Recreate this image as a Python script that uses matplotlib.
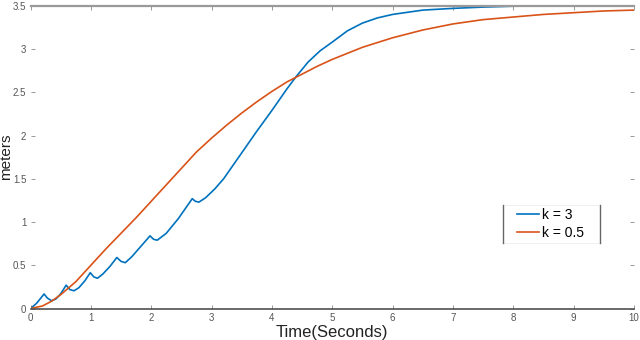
import matplotlib
matplotlib.use("Agg")
import matplotlib.pyplot as plt

# Blue series (k = 3)
t_k3 = [0, 0.1, 0.225, 0.28, 0.35, 0.42, 0.5, 0.59, 0.65, 0.72, 0.8, 0.9, 0.99,
        1.05, 1.11, 1.2, 1.32, 1.43, 1.5, 1.57, 1.68, 1.83, 1.98, 2.04, 2.1,
        2.25, 2.45, 2.68, 2.73, 2.79, 2.9, 3.05, 3.2, 3.5, 3.75, 4.0, 4.25,
        4.4, 4.6, 4.8, 5.0, 5.25, 5.5, 5.75, 6.0, 6.5, 7.0, 7.5, 8.0, 9.0, 10.0]
y_k3 = [0, 0.06, 0.168, 0.12, 0.09, 0.11, 0.17, 0.27, 0.22, 0.205, 0.24, 0.32, 0.414,
        0.365, 0.35, 0.40, 0.49, 0.59, 0.545, 0.53, 0.60, 0.72, 0.84, 0.80, 0.79,
        0.87, 1.04, 1.27, 1.24, 1.23, 1.28, 1.38, 1.50, 1.80, 2.05, 2.29, 2.54,
        2.68, 2.85, 2.98, 3.08, 3.21, 3.30, 3.36, 3.40, 3.45, 3.47, 3.485, 3.495, 3.5, 3.5]

# Orange series (k = 0.5)
t_k05 = [0, 0.2, 0.35, 0.5, 0.75, 1.0, 1.25, 1.5, 1.75, 2.0, 2.25, 2.5, 2.75, 3.0,
         3.25, 3.5, 3.75, 4.0, 4.25, 4.5, 4.75, 5.0, 5.5, 6.0, 6.5, 7.0, 7.5, 8.0,
         8.5, 9.0, 9.5, 10.0]
y_k05 = [0, 0.03, 0.085, 0.16, 0.31, 0.50, 0.69, 0.87, 1.05, 1.24, 1.43, 1.62, 1.81, 1.97,
         2.12, 2.26, 2.39, 2.51, 2.62, 2.71, 2.80, 2.88, 3.02, 3.13, 3.22, 3.29, 3.34, 3.37,
         3.40, 3.42, 3.44, 3.45]

x_ticks = [0, 1, 2, 3, 4, 5, 6, 7, 8, 9, 10]
y_ticks = [0, 0.5, 1, 1.5, 2, 2.5, 3, 3.5]
y_tick_labels = ["0", "0.5", "1", "1.5", "2", "2.5", "3", "3.5"]
labels = ["k = 3", "k = 0.5"]

plt.rcParams["font.family"] = ["Liberation Sans", "DejaVu Sans"]

fig = plt.figure(figsize=(6.4, 3.4), dpi=100)
ax = fig.add_axes([0.0477, 0.0926, 0.9429, 0.8904])

ax.plot(t_k3, y_k3, color="#0072BD", lw=1.2, label=labels[0])
ax.plot(t_k05, y_k05, color="#D95319", lw=1.2, label=labels[1])

ax.set_xlim(0, 10)
ax.set_ylim(0, 3.5)
ax.set_xticks(x_ticks)
ax.set_xticklabels([str(v) for v in x_ticks])
ax.set_yticks(y_ticks)
ax.set_yticklabels(y_tick_labels)

ax.tick_params(direction="in", length=3, width=0.6, colors="#888888",
               labelcolor="#555555", labelsize=7, top=True, right=True, pad=3)

ax.spines["left"].set_visible(False)
ax.spines["right"].set_visible(False)
ax.spines["bottom"].set_color("#505050")
ax.spines["bottom"].set_linewidth(1.2)
ax.spines["top"].set_color("#999999")
ax.spines["top"].set_linewidth(1.6)

ax.set_xlabel("Time(Seconds)", fontsize=12, color="#222222")
ax.xaxis.set_label_coords(0.5, -0.053)
ax.set_ylabel("meters", fontsize=11, color="#222222")
ax.yaxis.set_label_coords(-0.029, 0.5)

leg = ax.legend(loc="center", bbox_to_anchor=(0.862, 0.279), fontsize=10,
                frameon=False, handlelength=1.6, handletextpad=0.2,
                borderpad=0.4, labelspacing=0.3, borderaxespad=0)

# legend box: faint top/bottom, darker left/right edges
box_x0, box_x1, box_y0, box_y1 = 0.783, 0.944, 0.216, 0.342
ax.plot([box_x0, box_x1], [box_y1, box_y1], transform=ax.transAxes,
        color="#eeeeee", lw=0.6)
ax.plot([box_x0, box_x1], [box_y0, box_y0], transform=ax.transAxes,
        color="#eeeeee", lw=0.6)
for xe in (box_x0, box_x1):
    ax.plot([xe, xe], [box_y0, box_y1], transform=ax.transAxes, color="#666666",
            lw=1.0, clip_on=False)

fig.savefig("out.png", dpi=100)
